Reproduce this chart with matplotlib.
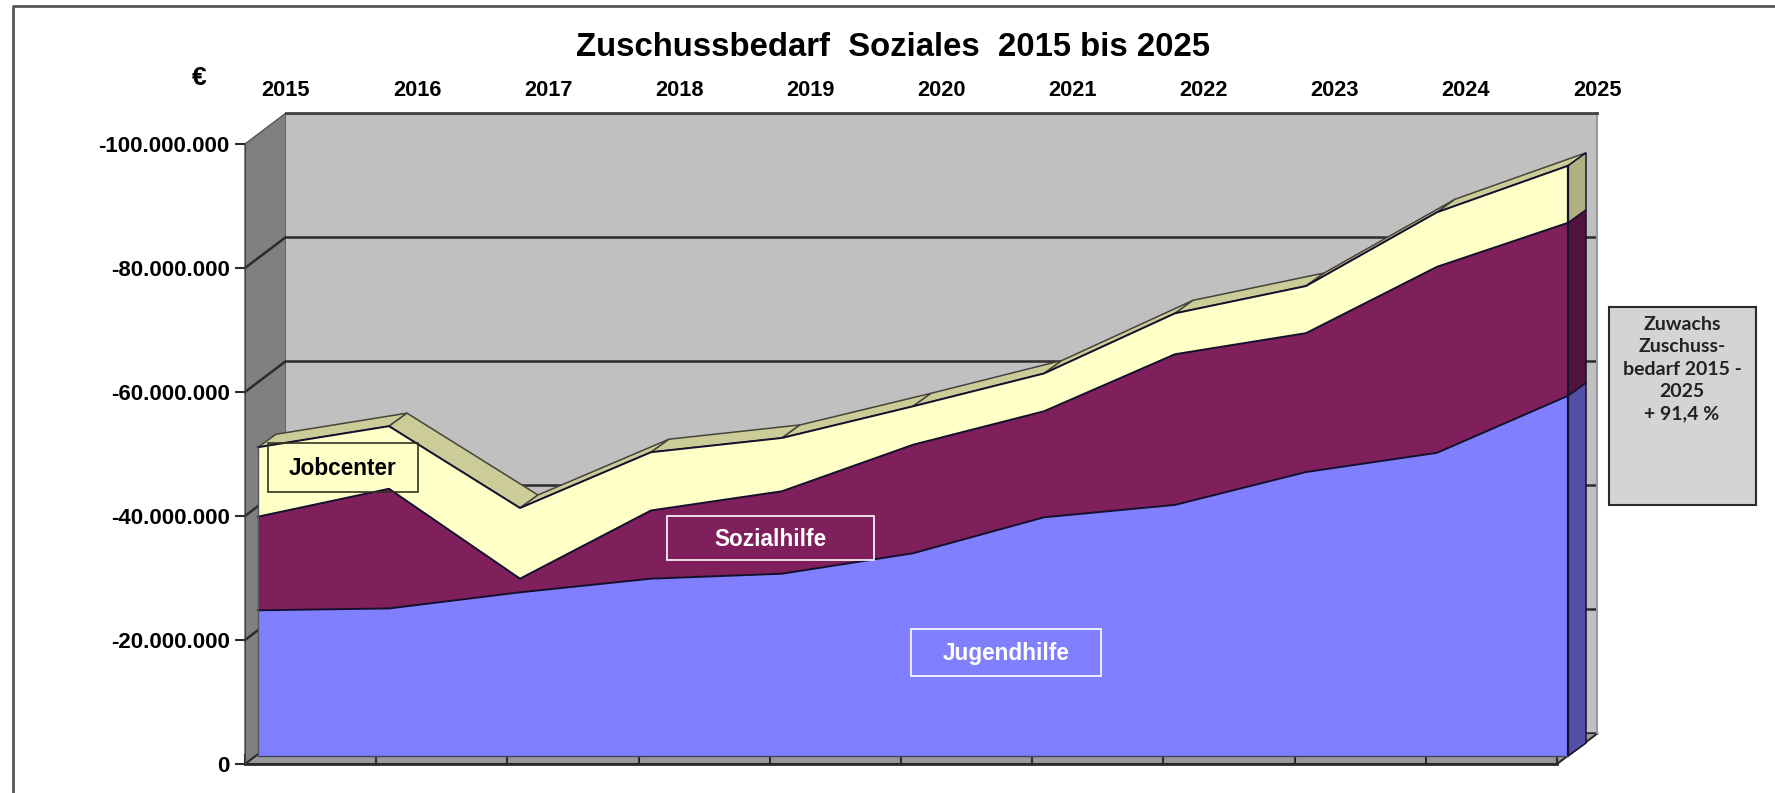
import matplotlib
matplotlib.use("Agg")
import matplotlib.pyplot as plt
import numpy as np

# values in euro (negative, axis runs upwards to -100 Mio)
years = [2015, 2016, 2017, 2018, 2019, 2020, 2021, 2022, 2023, 2024, 2025]
jugendhilfe = [-23.5e6, -23.8e6, -26.4e6, -28.6e6, -29.4e6, -32.7e6, -38.5e6, -40.5e6, -45.8e6, -48.9e6, -58.1e6]
sozialhilfe = [-15.1e6, -19.3e6, -2.2e6, -11.0e6, -13.3e6, -17.5e6, -17.1e6, -24.3e6, -22.4e6, -30.0e6, -27.9e6]
jobcenter = [-11.2e6, -10.1e6, -11.4e6, -9.4e6, -8.6e6, -6.2e6, -6.1e6, -6.6e6, -7.6e6, -8.8e6, -9.2e6]
y_ticks = [0, -20e6, -40e6, -60e6, -80e6, -100e6]
y_labels = ["0", "-20.000.000", "-40.000.000", "-60.000.000", "-80.000.000", "-100.000.000"]

W, H = 1775, 793
ARIAL = "Liberation Sans"
DARK = "#2b2b2b"
LINE = "#15102e"
plt.rcParams["font.family"] = ARIAL
plt.rcParams["font.weight"] = "bold"


def axes_px(x0, x1, y_top, y_bottom, **kw):
    return fig.add_axes([x0 / W, 1 - y_bottom / H, (x1 - x0) / W, (y_bottom - y_top) / H], **kw)


fig = plt.figure(figsize=(W / 100, H / 100), dpi=100, facecolor="white")

# pixel overlay for frame, side wall and floor
bg = axes_px(0, W, 0, H, zorder=0)
bg.set_xlim(0, W)
bg.set_ylim(H, 0)
bg.axis("off")
bg.plot([13, 13, W], [H, 6, 6], color="#555555", lw=2)
bg.fill([245, 286, 286, 245], [144, 113, 733, 764], color="#808080", ec="#555555", lw=1)
bg.fill([245, 286, 1598, 1557], [764, 733, 733, 764], color="#999999", ec=DARK, lw=1.5)
for i in range(1, 5):
    y = 764 - 124 * i
    bg.plot([245, 286], [y, y - 31], color=DARK, lw=1.8)

# back wall with gridlines and year labels on top
wall = axes_px(286, 1597, 113, 733, zorder=1)
wall.set_facecolor("#c0c0c0")
wall.set_xlim(2015, 2025)
wall.set_ylim(0, -100e6)
wall.set_yticks(y_ticks)
wall.tick_params(left=False, labelleft=False, bottom=False, labelbottom=False,
                 top=False, labeltop=True, pad=5, labelsize=15.7)
wall.set_xticks(years)
wall.grid(axis="y", color=DARK, lw=1.8)
wall.set_axisbelow(True)
for s in wall.spines.values():
    s.set_visible(False)
wall.spines["top"].set_visible(True)
wall.spines["top"].set_color("#444444")
wall.spines["top"].set_linewidth(2)
wall.spines["right"].set_visible(True)
wall.spines["right"].set_color("#999999")
wall.spines["right"].set_linewidth(1.5)

# front axis with the euro ticks
front = axes_px(245, 1557, 144, 764, zorder=2)
front.patch.set_alpha(0)
front.set_xlim(2015, 2025)
front.set_ylim(0, -100e6)
front.set_xticks(years[:-1] + [2025])
front.set_xticklabels([])
front.tick_params(axis="x", direction="in", length=7, width=1.5, color=DARK)
front.set_yticks(y_ticks)
front.set_yticklabels(y_labels)
front.tick_params(axis="y", length=7, width=1.5, color=DARK, labelsize=16, pad=4)
front.spines["top"].set_visible(False)
front.spines["right"].set_visible(False)
front.spines["left"].set_color("#444444")
front.spines["bottom"].set_color(DARK)
front.spines["bottom"].set_linewidth(2)

# the stacked areas, 3d look comes from the offset faces behind them
ax = axes_px(258, 1568, 136, 756, zorder=3)
ax.patch.set_alpha(0)
ax.axis("off")
ax.set_xlim(2015, 2025)
ax.set_ylim(0, -100e6)
dx = 18 / 131
dy = -13 / 6.2e-6

t1 = np.array(jugendhilfe)
t2 = t1 + np.array(sozialhilfe)
t3 = t2 + np.array(jobcenter)

for i in range(len(years) - 1):
    xa, xb = years[i], years[i + 1]
    ax.fill([xa, xb, xb + dx, xa + dx], [t3[i], t3[i + 1], t3[i + 1] + dy, t3[i] + dy],
            color="#cccc99", ec="#44443a", lw=1.1, clip_on=False, zorder=1)

xr = years[-1]
faces = [(0, t1[-1], "#5050a6"), (t1[-1], t2[-1], "#50143c"), (t2[-1], t3[-1], "#b0b080")]
for lo, hi, col in faces:
    ax.fill([xr, xr + dx, xr + dx, xr], [lo, lo + dy, hi + dy, hi],
            color=col, ec=LINE, lw=1.1, clip_on=False, zorder=1)

ax.stackplot(years, jugendhilfe, sozialhilfe, jobcenter,
             colors=["#8080ff", "#7f1f5c", "#ffffc8"], linewidth=0, zorder=2, clip_on=False)
for top_line in (t1, t2, t3):
    ax.plot(years, top_line, color=LINE, lw=1.4, zorder=3, clip_on=False)
ax.plot([xr, xr], [0, t3[-1]], color=LINE, lw=1.6, zorder=3, clip_on=False)
ax.plot([years[0], years[0]], [0, t3[0]], color="#555566", lw=1, zorder=3, clip_on=False)
ax.plot([years[0], xr], [0, 0], color="#444466", lw=1, zorder=3, clip_on=False)

# labels, placed in pixels on the overlay (drawn last)
top = axes_px(0, W, 0, H, zorder=4)
top.set_xlim(0, W)
top.set_ylim(H, 0)
top.axis("off")
top.text(893, 48, "Zuschussbedarf  Soziales  2015 bis 2025", ha="center", va="center", fontsize=23.7)
top.text(199, 78, "€", ha="center", va="center", fontsize=19)


def box_label(x0, x1, y0, y1, txt, col, edge):
    top.fill([x0, x1, x1, x0], [y0, y0, y1, y1], fc="none", ec=edge, lw=1.2)
    top.text((x0 + x1) / 2, (y0 + y1) / 2 + 1, txt, color=col, ha="center", va="center", fontsize=16.3)


box_label(268, 418, 443, 492, "Jobcenter", "black", "#33331f")
box_label(667, 874, 516, 560, "Sozialhilfe", "white", "white")
box_label(911, 1101, 629, 676, "Jugendhilfe", "white", "white")

top.fill([1609, 1756, 1756, 1609], [307, 307, 505, 505], fc="#d4d4d4", ec=DARK, lw=1.5)
top.text(1682, 316, "Zuwachs\nZuschuss-\nbedarf 2015 -\n2025\n+ 91,4 %", ha="center", va="top",
         fontsize=14, family="Lato", weight="bold", color="#222222", linespacing=1.38)

fig.savefig("out.png", dpi=100)
